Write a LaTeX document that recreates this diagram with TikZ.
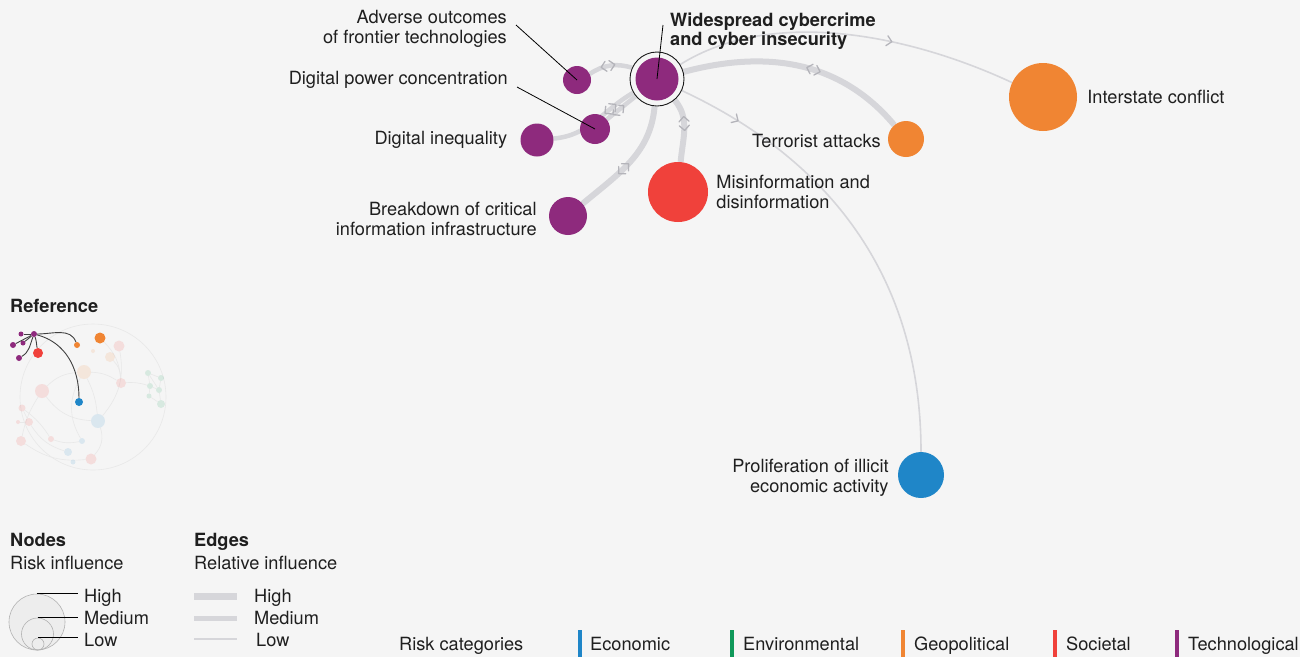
\documentclass[tikz,border=0pt]{standalone}
\usepackage{fontspec}
\setmainfont{TeX Gyre Heros}
\usetikzlibrary{positioning}
\usetikzlibrary{calc}
\usetikzlibrary{backgrounds}
\usetikzlibrary{decorations.markings}

\definecolor{bgc}{HTML}{F5F5F5}
\definecolor{techc}{HTML}{8E2A7D}
\definecolor{socc}{HTML}{F0413B}
\definecolor{geoc}{HTML}{F08533}
\definecolor{ecoc}{HTML}{1F86C8}
\definecolor{envc}{HTML}{10995A}
\definecolor{edgec}{HTML}{D6D6DA}
\definecolor{markc}{HTML}{B4B4BA}

\begin{document}
\begin{tikzpicture}[x=1pt, y=1pt,
    every node/.style={inner sep=0pt, text=black!88, font=\fontsize{18.2}{19.5}\selectfont},
    hd/.style={font=\fontsize{18.2}{19.5}\selectfont\bfseries},
    risk/.style={circle, minimum size=#1},
    tech/.style={risk=#1, fill=techc},
    soc/.style={risk=#1, fill=socc},
    geo/.style={risk=#1, fill=geoc},
    eco/.style={risk=#1, fill=ecoc},
    ring/.style={circle, draw=black!90, line width=0.9pt, minimum size=54pt,
        path picture={\fill[techc] (path picture bounding box.center) circle (21.5pt);}},
    edgeH/.style={draw=edgec, line width=6pt},
    edgeM/.style={draw=edgec, line width=4.5pt},
    edgeL/.style={draw=edgec, line width=1.6pt},
    leader/.style={draw=black, line width=0.8pt},
    chev/.style={draw=markc, line width=1.3pt, line cap=round, line join=round},
    fwd/.style={postaction={decorate}, decoration={markings,
        mark=at position #1 with {\draw[chev] (-1pt,5pt) -- (4pt,0pt) -- (-1pt,-5pt);}}},
    both/.style={postaction={decorate}, decoration={markings,
        mark=at position #1 with {\draw[chev] (-2pt,5pt) -- (-7pt,0pt) -- (-2pt,-5pt);
            \draw[chev] (2pt,5pt) -- (7pt,0pt) -- (2pt,-5pt);}}},
    mini/.style={circle, minimum size=#1},
    faint/.style={draw=black!9, line width=0.6pt},
    minidark/.style={draw=black!75, line width=0.9pt},
    legcirc/.style={circle, draw=black!30, line width=0.6pt},
    catbar/.style={rectangle, minimum width=4pt, minimum height=27pt}
]
    \useasboundingbox (0,0) rectangle (1300,-657);

    % risk nodes
    \node[ring] (cyber) at (657,-79) {};
    \node[tech=28pt] (adverse) at (577,-80) {};
    \node[tech=30pt] (power) at (595,-129) {};
    \node[tech=33pt] (inequal) at (537,-140) {};
    \node[tech=38pt] (breakdown) at (568,-216) {};
    \node[soc=60pt] (misinfo) at (678,-192) {};
    \node[geo=36pt] (terror) at (906,-139) {};
    \node[geo=68pt] (interstate) at (1043,-97) {};
    \node[eco=46pt] (illicit) at (921,-475) {};

    % labels
    \node[hd, anchor=west, align=left] (cyberLbl) at (670,-31) {Widespread cybercrime\\and cyber insecurity};
    \node[anchor=east, align=right] (adverseLbl) at (507,-29) {Adverse outcomes\\of frontier technologies};
    \node[anchor=east] (powerLbl) at (508,-80) {Digital power concentration};
    \node[left=13pt of inequal] (inequalLbl) {Digital inequality};
    \node[left=12pt of breakdown, yshift=-3pt, align=right] (breakdownLbl) {Breakdown of critical\\information infrastructure};
    \node[right=8pt of misinfo, align=left] (misinfoLbl) {Misinformation and\\disinformation};
    \node[left=7pt of terror, yshift=-2pt] (terrorLbl) {Terrorist attacks};
    \node[right=10pt of interstate] (interLbl) {Interstate conflict};
    \node[left=9pt of illicit, yshift=-3pt, align=right] (illicitLbl) {Proliferation of illicit\\economic activity};

    % leader lines
    \coordinate (cyberTip) at (663,-25);
    \coordinate (adverseTip) at (516,-25);
    \coordinate (powerTip) at (517,-87);
    \draw[leader] (cyberTip) -- (cyber.center);
    \draw[leader] (adverseTip) -- (adverse.center);
    \draw[leader] (powerTip) -- (power.center);

    % reference network
    \node[hd, anchor=base west] (refHd) at (10,-312) {Reference};
    \node[mini=11pt, fill=socc, fill opacity=0.13] (f1) at (119,-346) {};
    \node[mini=4pt, fill=geoc, fill opacity=0.13] (f2) at (93,-351) {};
    \node[mini=10pt, fill=geoc, fill opacity=0.13] (f3) at (110,-357) {};
    \node[mini=14pt, fill=geoc, fill opacity=0.13] (f4) at (84,-372) {};
    \node[mini=10pt, fill=socc, fill opacity=0.13] (f5) at (121,-383) {};
    \node[mini=14pt, fill=socc, fill opacity=0.13] (f6) at (42,-391) {};
    \node[mini=14pt, fill=ecoc, fill opacity=0.12] (f7) at (98,-421) {};
    \node[mini=7pt, fill=socc, fill opacity=0.13] (f8) at (22,-408) {};
    \node[mini=8pt, fill=socc, fill opacity=0.13] (f9) at (29,-422) {};
    \node[mini=4pt, fill=socc, fill opacity=0.13] (f10) at (18,-422) {};
    \node[mini=10pt, fill=socc, fill opacity=0.13] (f11) at (21,-441) {};
    \node[mini=6pt, fill=socc, fill opacity=0.13] (f12) at (51,-439) {};
    \node[mini=6pt, fill=ecoc, fill opacity=0.12] (f13) at (82,-441) {};
    \node[mini=8pt, fill=ecoc, fill opacity=0.12] (f14) at (68,-452) {};
    \node[mini=5pt, fill=ecoc, fill opacity=0.12] (f15) at (73,-462) {};
    \node[mini=11pt, fill=socc, fill opacity=0.13] (f16) at (91,-459) {};
    \node[mini=6pt, fill=envc, fill opacity=0.13] (g1) at (148,-373) {};
    \node[mini=6pt, fill=envc, fill opacity=0.13] (g2) at (161,-378) {};
    \node[mini=6pt, fill=envc, fill opacity=0.13] (g3) at (150,-386) {};
    \node[mini=6pt, fill=envc, fill opacity=0.13] (g4) at (159,-390) {};
    \node[mini=5pt, fill=envc, fill opacity=0.13] (g5) at (149,-396) {};
    \node[mini=8pt, fill=envc, fill opacity=0.13] (g6) at (161,-404) {};
    \node[mini=6pt, fill=techc] (m0) at (34,-334) {};
    \node[mini=5pt, fill=techc] (m1) at (21,-334) {};
    \node[mini=6pt, fill=techc] (m2) at (13,-345) {};
    \node[mini=5pt, fill=techc] (m3) at (23,-343) {};
    \node[mini=6pt, fill=techc] (m4) at (19,-358) {};
    \node[mini=10pt, fill=socc] (m5) at (38,-353) {};
    \node[mini=6pt, fill=geoc] (m6) at (77,-345) {};
    \node[mini=11pt, fill=geoc] (m7) at (100,-338) {};
    \node[mini=8pt, fill=ecoc] (m8) at (79,-402) {};

    % legend: nodes
    \node[hd, anchor=base west] (nodesHd) at (10,-546) {Nodes};
    \node[anchor=base west] (nodesSub) at (10,-569) {Risk influence};
    \node[legcirc, fill=black!7, minimum size=56pt] (legHigh) at (37,-622) {};
    \node[legcirc, minimum size=32pt] (legMed) at (37.5,-634) {};
    \node[legcirc, minimum size=12pt] (legLow) at (38,-644) {};
    \node[anchor=base west] (highTxt) at (84,-602) {High};
    \node[anchor=base west] (medTxt) at (84,-624) {Medium};
    \node[anchor=base west] (lowTxt) at (84,-646) {Low};
    \draw[leader, shorten >=6pt] (legHigh.north) -- (legHigh.north -| highTxt.west);
    \draw[leader, shorten >=6pt] (legMed.north) -- (legMed.north -| medTxt.west);
    \draw[leader, shorten >=6pt] (legLow.north) -- (legLow.north -| lowTxt.west);

    % legend: edges
    \node[hd, anchor=base west] (edgesHd) at (194,-546) {Edges};
    \node[anchor=base west] (edgesSub) at (194,-569) {Relative influence};
    \draw[edgec, line width=7pt] (194,-596) -- (237,-596);
    \draw[edgec, line width=5pt] (194,-618) -- (237,-618);
    \draw[edgec, line width=2pt] (194,-639) -- (237,-639);
    \node[anchor=base west] (eHighTxt) at (254,-602) {High};
    \node[anchor=base west] (eMedTxt) at (254,-624) {Medium};
    \node[anchor=base west] (eLowTxt) at (256,-646) {Low};

    % legend: categories
    \node[anchor=base west] (catHd) at (399,-650) {Risk categories};
    \node[catbar, fill=ecoc] (ecoBar) at (580,-643.5) {};
    \node[catbar, fill=envc] (envBar) at (732,-643.5) {};
    \node[catbar, fill=geoc] (geoBar) at (903,-643.5) {};
    \node[catbar, fill=socc] (socBar) at (1055,-643.5) {};
    \node[catbar, fill=techc] (techBar) at (1177,-643.5) {};
    \node[anchor=base west] at (590,-650) {Economic};
    \node[anchor=base west] at (743,-650) {Environmental};
    \node[anchor=base west] at (914,-650) {Geopolitical};
    \node[anchor=base west] at (1066,-650) {Societal};
    \node[anchor=base west] at (1188,-650) {Technological};

    \begin{scope}[on background layer]
        \fill[bgc] (0,0) rectangle (1300,-657);

        % influence edges
        \draw[edgeM, both=0.45] (adverse) to[bend left=25] (cyber);
        \draw[edgeM, both=0.4] (power) -- (cyber);
        \draw[edgeM, both=0.7] (inequal) to[out=5, in=-150] (cyber);
        \draw[edgeH, both=0.43] (breakdown) to[out=40, in=-95] (cyber);
        \draw[edgeH, both=0.4] (cyber) to[out=-50, in=85] (misinfo);
        \draw[edgeH, both=0.57] (cyber) to[out=15, in=130] (terror);
        \draw[edgeL, fwd=0.62] (cyber) to[out=32, in=155, looseness=0.85] (interstate);
        \draw[edgeL, fwd=0.13] (cyber) to[out=-25, in=90] (illicit);

        % reference network edges
        \draw[faint] (93,-397) circle (73);
        \draw[faint] (f6) to[bend left=20] (f4);
        \draw[faint] (f4) to[bend left=15] (f5);
        \draw[faint] (f6) to[bend right=25] (f7);
        \draw[faint] (f4) to[bend left=10] (f7);
        \draw[faint] (f3) to[bend left=20] (f5);
        \draw[faint] (f7) to[bend left=30] (f16);
        \draw[faint] (f8) to[bend left=10] (f12);
        \draw[faint] (f9) to[bend right=20] (f14);
        \draw[faint] (f11) to[bend right=20] (f16);
        \draw[faint] (f12) to[bend right=15] (f13);
        \draw[faint] (f6) to[bend right=10] (f11);
        \draw[faint] (f8) -- (f9);
        \draw[faint] (f10) -- (f9);
        \draw[faint] (f4) to[bend right=30] (f13);
        \draw[faint] (m7) to[bend left=20] (f5);
        \draw[faint] (f1) to[bend left=25] (f7);
        \draw[faint] (g1) -- (g2);
        \draw[faint] (g1) -- (g3);
        \draw[faint] (g2) -- (g4);
        \draw[faint] (g3) -- (g4);
        \draw[faint] (g3) -- (g5);
        \draw[faint] (g4) -- (g6);
        \draw[faint] (g5) -- (g6);
        \draw[faint] (g1) -- (g4);
        \draw[faint] (f5) to[bend left=10] (g3);
        \draw[minidark] (m0) to[out=0, in=110] (m6);
        \draw[minidark] (m0) to[out=-15, in=90] (m8);
        \draw[minidark] (m0) to[out=-70, in=100] (m5);
        \draw[minidark] (m0) -- (m1);
        \draw[minidark] (m0) -- (m2);
        \draw[minidark] (m0) -- (m3);
        \draw[minidark] (m0) to[out=-110, in=30] (m4);
    \end{scope}
\end{tikzpicture}
\end{document}
